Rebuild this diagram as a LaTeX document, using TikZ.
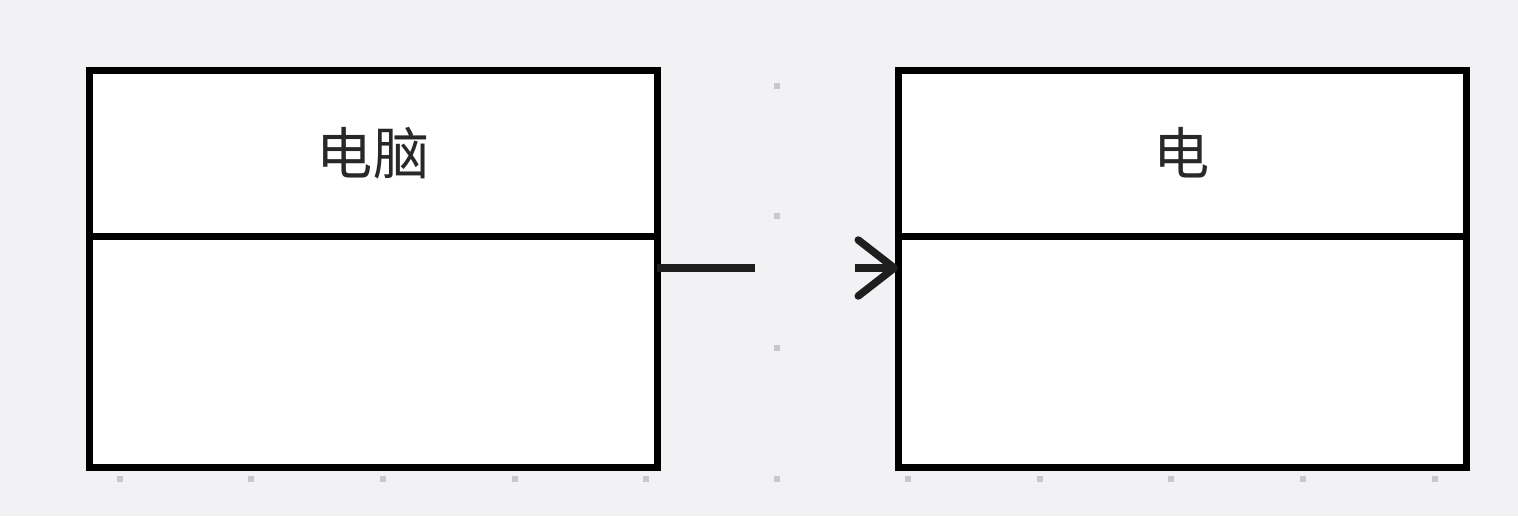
\documentclass[tikz,border=0pt]{standalone}
\usepackage{fontspec}
\newfontfamily\cjk{Noto Sans CJK SC}
\usetikzlibrary{arrows.meta,positioning}
\usepackage{xcolor}
\definecolor{cBack}{RGB}{242,242,244}
\definecolor{cDot}{RGB}{200,200,204}
\definecolor{cText}{RGB}{40,40,40}
\definecolor{cArrow}{RGB}{30,30,30}
\tikzset{
  basebox/.style={rectangle,draw=black,line width=0.14cm,fill=white,
                  minimum width=11.36cm,inner sep=0pt,outer sep=0pt,anchor=north west},
  headbox/.style={basebox,minimum height=3.32cm,font=\cjk\fontsize{32}{38}\selectfont,
                  text=cText,text depth=0.1cm},
  bodybox/.style={basebox,minimum height=4.62cm},
  griddot/.style={fill=cDot,minimum size=0.12cm,inner sep=0pt},
  arr/.style={-{Straight Barb[length=0.72cm,width=1.12cm,round]},line width=0.15cm,
              color=cArrow}
}
\begin{document}
\begin{tikzpicture}
  \fill[cBack] (0,0) rectangle (30.36,10.32);
  \useasboundingbox (0,0) rectangle (30.36,10.32);

  % grid dots
  \foreach \x in {2.4,5.02,7.66,10.3,12.92,15.54,18.16,20.8,23.42,26.06,28.7}
    \node[griddot] at (\x,0.74) {};
  \foreach \y in {8.6,6.0,3.36}
    \node[griddot] at (15.54,\y) {};

  % classes
  \node[headbox] (pcHead) at (1.78,8.92) {电脑};
  \node[bodybox] (pcBody) at (pcHead.south west) {};
  \node[headbox] (elHead) at (17.96,8.92) {电};
  \node[bodybox] (elBody) at (elHead.south west) {};

  % connector (broken)
  \coordinate (gapL) at (15.1,4.96);
  \coordinate (gapR) at (17.1,4.96);
  \draw[line width=0.15cm,color=cArrow] (pcBody.east |- gapL) -- (gapL);
  \draw[arr] (gapR) -- (elBody.west |- gapR);
\end{tikzpicture}
\end{document}
